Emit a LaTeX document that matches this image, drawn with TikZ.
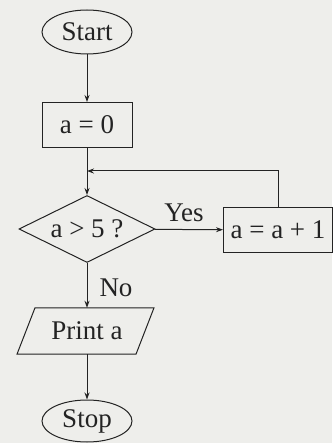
\documentclass[tikz,border=0pt]{standalone}
\usepackage{fontspec}
\setmainfont{Liberation Serif}
\usetikzlibrary{shapes.geometric,arrows.meta}
\definecolor{paper}{RGB}{238,238,235}
\definecolor{ink}{RGB}{35,35,35}
\tikzset{
  base/.style={draw=ink, line width=1pt, inner sep=0pt, font=\fontsize{27}{30}\selectfont, text=ink},
  term/.style={base, ellipse, minimum width=90pt, minimum height=44pt},
  proc/.style={base, rectangle, minimum width=90pt, minimum height=45pt},
  decision/.style={base, diamond, aspect=2, minimum width=136pt, minimum height=67pt},
  iotext/.style={font=\fontsize{27}{30}\selectfont, text=ink, inner sep=0pt, minimum width=100pt, minimum height=46pt},
  iobox/.style={draw=ink, line width=1pt},
  lbl/.style={font=\fontsize{27}{30}\selectfont, text=ink, inner sep=0pt},
  arrow/.style={draw=ink, line width=1pt, -{Stealth[length=7pt,width=5pt]}}
}
\begin{document}
\begin{tikzpicture}[x=1pt,y=-1pt]
\fill[paper] (0,0) rectangle (332,443);
\useasboundingbox (0,0) rectangle (332,443);
\node[term] (start) at (87,32) {Start};
\node[proc] (a0) at (87,125) {a = 0};
\coordinate (join) at (87,171);
\node[decision] (dec) at (87,229) {a > 5 ?};
\node[proc, minimum width=109pt] (inc) at (278,230) {a = a + 1};
\node[iotext] (print) at (87,331) {Print a};
\draw[iobox] ([xshift=-52pt]print.north) -- ([xshift=67pt]print.north) -- ([xshift=49pt]print.south) -- ([xshift=-70pt]print.south) -- cycle;
\node[term, minimum height=42pt] (stop) at (87,421) {Stop};
\node[lbl] at (184,213) {Yes};
\node[lbl] at (116,288) {No};
\draw[arrow] (start) -- (a0);
\draw[arrow] (a0) -- (dec);
\draw[arrow] (dec) -- (inc);
\draw[arrow] (inc.north) |- (join);
\draw[arrow] (dec) -- (print);
\draw[arrow] (print) -- (stop);
\end{tikzpicture}
\end{document}
